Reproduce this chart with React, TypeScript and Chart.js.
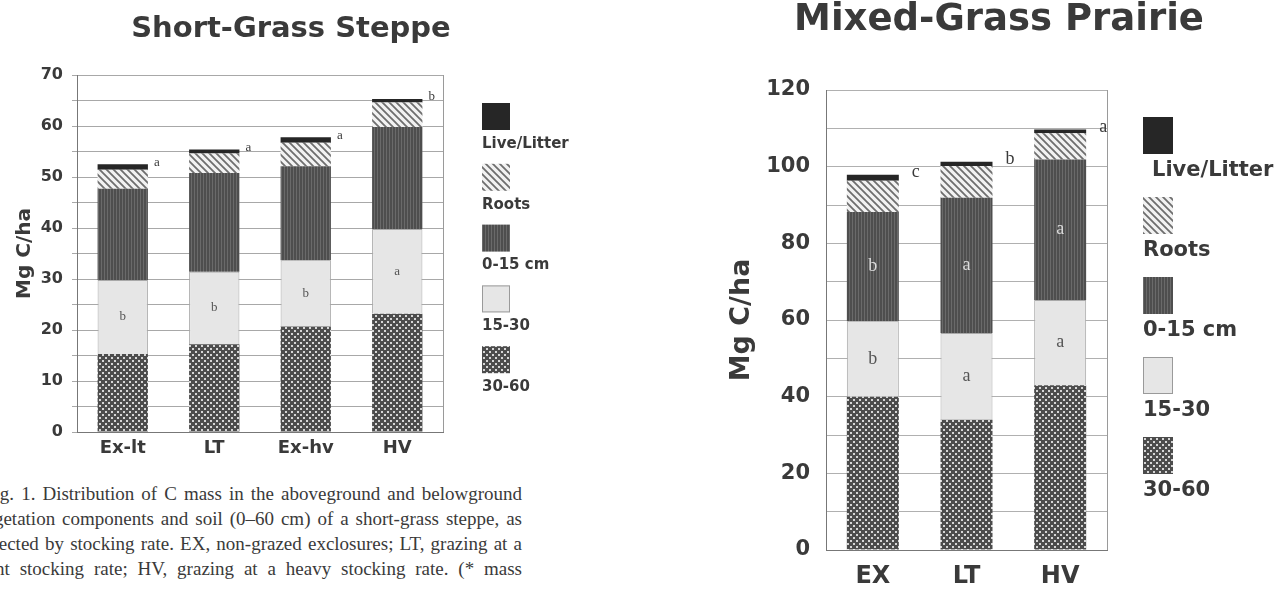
import React, { useEffect, useRef } from 'react';
import { Chart, registerables } from 'chart.js';
Chart.register(...registerables);

// ---------- DATA ----------
const shortCategories = ['Ex-lt', 'LT', 'Ex-hv', 'HV'];
const short3060 = [15.3, 17.2, 20.7, 23.2];
const short1530 = [14.5, 14.2, 13.0, 16.6];
const short015 = [17.9, 19.4, 18.4, 20.0];
const shortRoots = [3.7, 3.8, 4.6, 4.8];
const shortLive = [1.1, 0.8, 1.1, 0.7];
const shortTopLetters = ['a', 'a', 'a', 'b'];
const short1530Letters = ['b', 'b', 'b', 'a'];

const mixedCategories = ['EX', 'LT', 'HV'];
const mixed3060 = [40.0, 34.0, 43.0];
const mixed1530 = [19.7, 22.6, 22.2];
const mixed015 = [28.5, 35.3, 36.7];
const mixedRoots = [8.1, 8.3, 6.8];
const mixedLive = [1.6, 1.1, 1.0];
const mixedTopLetters = ['c', 'b', 'a'];
const mixed015Letters = ['b', 'a', 'a'];
const mixed1530Letters = ['b', 'a', 'a'];

const seriesNames = ['30-60', '15-30', '0-15 cm', 'Roots', 'Live/Litter'];
const legendOrder = [4, 3, 2, 1, 0];

const shortTitle = 'Short-Grass Steppe';
const mixedTitle = 'Mixed-Grass Prairie';
const yTitle = 'Mg C/ha';

const captionLines = [
  'Fig. 1. Distribution of C mass in the aboveground and belowground',
  'vegetation components and soil (0–60 cm) of a short-grass steppe, as',
  'affected by stocking rate. EX, non-grazed exclosures; LT, grazing at a',
  'light stocking rate; HV, grazing at a heavy stocking rate. (* mass',
];
const captionShift = [16, 24, 22, 25];

const SANS = '"DejaVu Sans", "Liberation Sans", sans-serif';
const SERIF = '"Liberation Serif", "DejaVu Serif", serif';
const TEXT = '#3a3a3a';

// ---------- PATTERNS ----------
function tile(w: number, h: number, draw: (c: CanvasRenderingContext2D) => void) {
  const c = document.createElement('canvas');
  c.width = w;
  c.height = h;
  const ctx = c.getContext('2d')!;
  draw(ctx);
  return ctx.createPattern(c, 'repeat')!;
}

function makeFills() {
  const dots = tile(6, 6, (c) => {
    c.fillStyle = '#4c4c4c';
    c.fillRect(0, 0, 6, 6);
    c.fillStyle = '#d6d6d6';
    c.fillRect(0, 0, 2, 2);
    c.fillRect(3, 3, 2, 2);
  });
  const light = '#e6e6e6';
  const vert = tile(3, 3, (c) => {
    c.fillStyle = '#4e4e4e';
    c.fillRect(0, 0, 3, 3);
    c.fillStyle = '#6a6a6a';
    c.fillRect(2, 0, 1, 3);
  });
  const hatch = tile(7, 7, (c) => {
    c.fillStyle = '#f2f2f2';
    c.fillRect(0, 0, 7, 7);
    c.strokeStyle = '#6e6e6e';
    c.lineWidth = 1.8;
    c.beginPath();
    c.moveTo(-1, -1);
    c.lineTo(8, 8);
    c.moveTo(-8, -1);
    c.lineTo(1, 8);
    c.moveTo(6, -1);
    c.lineTo(15, 8);
    c.stroke();
  });
  const dark = '#262626';
  return [dots, light, vert, hatch, dark];
}

type Deco = {
  title: string;
  titleFont: string;
  titleX: number;
  titleY: number;
  legendX: number;
  legendTop: number;
  legendStep: number;
  swW: number;
  swH: number;
  labelOffset: number;
  labelFont: string;
  firstIndent: number;
  letterFont: string;
  topLetters: string[];
  topDx: number;
  inside: { ds: number; letters: string[]; color: string }[];
};

function decoPlugin(d: Deco, fills: any[]) {
  return {
    id: 'deco',
    afterDraw(chart: any) {
      const ctx = chart.ctx as CanvasRenderingContext2D;
      const a = chart.chartArea;
      ctx.save();
      // right frame
      ctx.strokeStyle = '#9a9a9a';
      ctx.lineWidth = 1;
      ctx.beginPath();
      ctx.moveTo(Math.round(a.right) + 0.5, a.top);
      ctx.lineTo(Math.round(a.right) + 0.5, a.bottom);
      ctx.stroke();
      // title
      ctx.fillStyle = TEXT;
      ctx.font = d.titleFont;
      ctx.textAlign = 'center';
      ctx.textBaseline = 'middle';
      ctx.fillText(d.title, d.titleX, d.titleY);
      // legend
      legendOrder.forEach((ds, i) => {
        const top = d.legendTop + i * d.legendStep;
        ctx.fillStyle = fills[ds];
        ctx.fillRect(d.legendX, top, d.swW, d.swH);
        if (ds === 1) {
          ctx.strokeStyle = '#9a9a9a';
          ctx.strokeRect(d.legendX + 0.5, top + 0.5, d.swW - 1, d.swH - 1);
        }
        ctx.fillStyle = TEXT;
        ctx.font = d.labelFont;
        ctx.textAlign = 'left';
        ctx.textBaseline = 'middle';
        ctx.fillText(seriesNames[ds], d.legendX + (i === 0 ? d.firstIndent : 0), top + d.labelOffset);
      });
      // letters
      ctx.font = d.letterFont;
      ctx.textBaseline = 'middle';
      const nDs = chart.data.datasets.length;
      const topMeta = chart.getDatasetMeta(nDs - 1);
      topMeta.data.forEach((bar: any, j: number) => {
        const p = bar.getProps(['x', 'y', 'width'], true);
        ctx.fillStyle = TEXT;
        ctx.textAlign = 'left';
        ctx.fillText(d.topLetters[j], p.x + p.width / 2 + d.topDx, p.y - 2);
      });
      d.inside.forEach((ins) => {
        const meta = chart.getDatasetMeta(ins.ds);
        meta.data.forEach((bar: any, j: number) => {
          const p = bar.getProps(['x', 'y', 'base'], true);
          ctx.fillStyle = ins.color;
          ctx.textAlign = 'center';
          ctx.fillText(ins.letters[j], p.x, (p.y + p.base) / 2);
        });
      });
      ctx.restore();
    },
  };
}

function datasets(values: number[][], fills: any[], barPct: number) {
  return values.map((v, i) => ({
    label: seriesNames[i],
    data: v,
    backgroundColor: fills[i],
    borderColor: '#a8a8a8',
    borderWidth: i === 1 ? 1 : 0,
    barPercentage: barPct,
    categoryPercentage: 1.0,
  }));
}

export default function App() {
  const leftRef = useRef<HTMLCanvasElement>(null);
  const rightRef = useRef<HTMLCanvasElement>(null);

  useEffect(() => {
    const fills = makeFills();

    const left = new Chart(leftRef.current!, {
      type: 'bar',
      data: {
        labels: shortCategories,
        datasets: datasets([short3060, short1530, short015, shortRoots, shortLive], fills, 0.55) as any,
      },
      options: {
        responsive: false,
        animation: false,
        layout: { padding: { left: 0, right: 157, top: 75, bottom: 0 } },
        plugins: { legend: { display: false }, tooltip: { enabled: false }, title: { display: false } },
        scales: {
          x: {
            stacked: true,
            grid: { display: false, drawTicks: false },
            border: { display: true, color: '#777' },
            ticks: { font: { family: SANS, size: 18, weight: 'bold' }, color: TEXT, padding: 6 },
            afterFit: (s: any) => { s.height = 38; },
          },
          y: {
            stacked: true,
            min: 0,
            max: 70,
            ticks: {
              stepSize: 5,
              callback: (v: any) => (Number(v) % 10 === 0 ? String(v) : ''),
              font: { family: SANS, size: 16, weight: 'bold' },
              color: TEXT,
              padding: 9,
            },
            grid: { color: '#a8a8a8', tickLength: 5, drawTicks: true },
            border: { color: '#777' },
            title: {
              display: true,
              text: yTitle,
              font: { family: SANS, size: 20, weight: 'bold' },
              color: TEXT,
              padding: { top: 13, bottom: 0 },
            },
            afterFit: (s: any) => { s.width = 77; },
          },
        },
      } as any,
      plugins: [
        decoPlugin(
          {
            title: shortTitle,
            titleFont: `bold 29px ${SANS}`,
            titleX: 291,
            titleY: 29,
            legendX: 482,
            legendTop: 103,
            legendStep: 60.8,
            swW: 28,
            swH: 27,
            labelOffset: 41,
            labelFont: `bold 15px ${SANS}`,
            firstIndent: 0,
            letterFont: `13px ${SERIF}`,
            topLetters: shortTopLetters,
            topDx: 6,
            inside: [{ ds: 1, letters: short1530Letters, color: '#555' }],
          },
          fills
        ) as any,
      ],
    });

    const right = new Chart(rightRef.current!, {
      type: 'bar',
      data: {
        labels: mixedCategories,
        datasets: datasets([mixed3060, mixed1530, mixed015, mixedRoots, mixedLive], fills, 0.555) as any,
      },
      options: {
        responsive: false,
        animation: false,
        layout: { padding: { left: 0, right: 169, top: 90, bottom: 0 } },
        plugins: { legend: { display: false }, tooltip: { enabled: false }, title: { display: false } },
        scales: {
          x: {
            stacked: true,
            grid: { display: false, drawTicks: false },
            border: { display: true, color: '#777' },
            ticks: { font: { family: SANS, size: 24, weight: 'bold' }, color: TEXT, padding: 12 },
            afterFit: (s: any) => { s.height = 40; },
          },
          y: {
            stacked: true,
            min: 0,
            max: 120,
            ticks: {
              stepSize: 10,
              callback: (v: any) => (Number(v) % 20 === 0 ? String(v) : ''),
              font: { family: SANS, size: 21, weight: 'bold' },
              color: TEXT,
              padding: 16,
            },
            grid: { color: '#b0b0b0', drawTicks: false },
            border: { color: '#777' },
            title: {
              display: true,
              text: yTitle,
              font: { family: SANS, size: 27, weight: 'bold' },
              color: TEXT,
              padding: { top: 26, bottom: 0 },
            },
            afterFit: (s: any) => { s.width = 126; },
          },
        },
      } as any,
      plugins: [
        decoPlugin(
          {
            title: mixedTitle,
            titleFont: `bold 37px ${SANS}`,
            titleX: 299,
            titleY: 20,
            legendX: 443,
            legendTop: 117,
            legendStep: 80,
            swW: 30,
            swH: 37,
            labelOffset: 54,
            labelFont: `bold 21px ${SANS}`,
            firstIndent: 9,
            letterFont: `18px ${SERIF}`,
            topLetters: mixedTopLetters,
            topDx: 13,
            inside: [
              { ds: 2, letters: mixed015Letters, color: '#dcdcdc' },
              { ds: 1, letters: mixed1530Letters, color: '#555' },
            ],
          },
          fills
        ) as any,
      ],
    });

    return () => {
      left.destroy();
      right.destroy();
    };
  }, []);

  return (
    <div
      style={{
        position: 'fixed',
        left: 0,
        top: 0,
        width: 1276,
        height: 590,
        overflow: 'hidden',
        background: '#ffffff',
      }}
    >
      <canvas ref={leftRef} width={600} height={470} style={{ position: 'absolute', left: 0, top: 0 }} />
      <canvas ref={rightRef} width={576} height={590} style={{ position: 'absolute', left: 700, top: 0 }} />
      <div
        style={{
          position: 'absolute',
          left: 0,
          top: 481,
          width: 522,
          fontFamily: SERIF,
          fontSize: 19,
          lineHeight: '25px',
          color: '#3a3a3a',
        }}
      >
        {captionLines.map((t, i) => (
          <div
            key={i}
            style={{
              marginLeft: -captionShift[i],
              width: 522 + captionShift[i],
              textAlign: 'justify',
              textAlignLast: 'justify',
              whiteSpace: 'nowrap',
            }}
          >
            {t}
          </div>
        ))}
      </div>
    </div>
  );
}
